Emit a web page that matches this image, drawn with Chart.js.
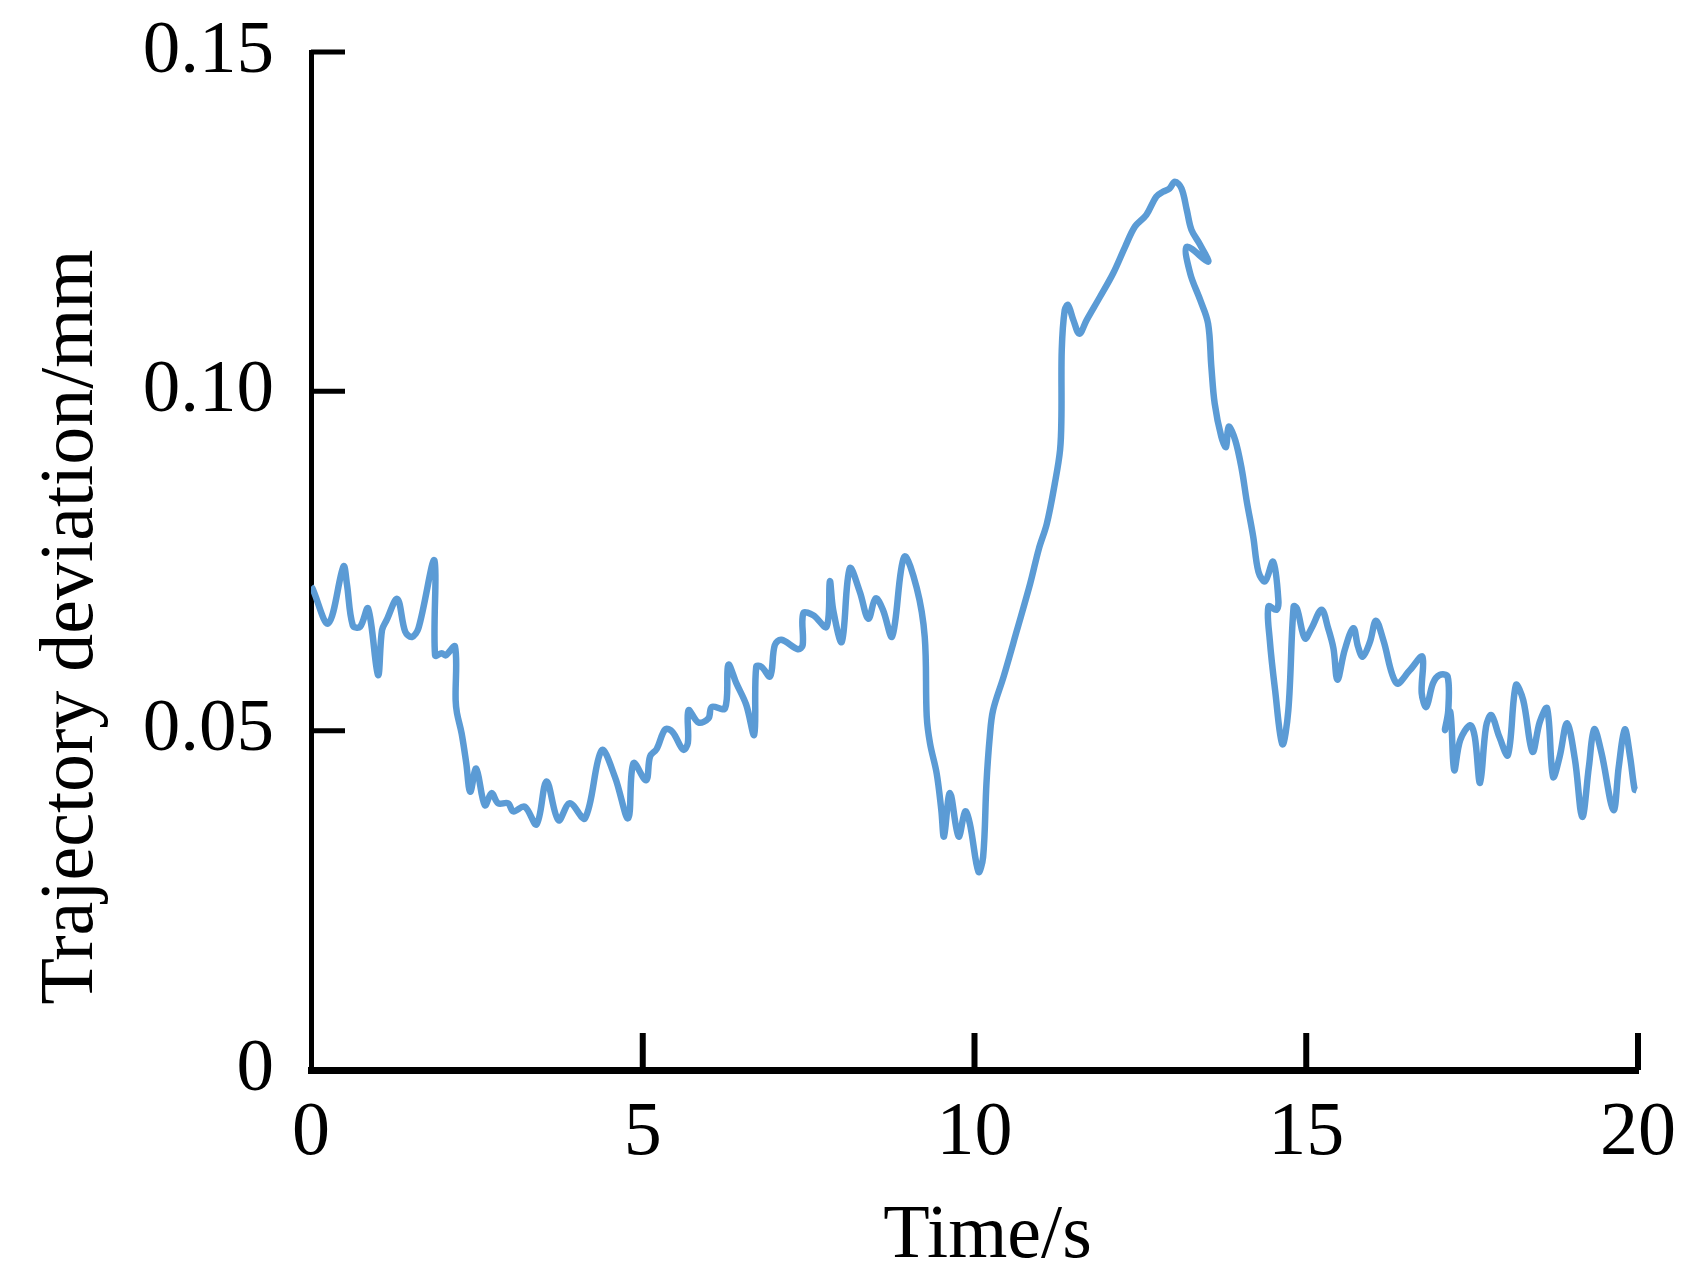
<!DOCTYPE html>
<html>
<head>
<meta charset="utf-8">
<title>Trajectory deviation</title>
<script src="https://cdn.jsdelivr.net/npm/chart.js@4.4.1/dist/chart.umd.min.js"></script>
<style>
  html, body { margin: 0; padding: 0; background: #fff; }
  canvas { display: block; }
</style>
</head>
<body>
<canvas id="deviation-chart" width="1684" height="1288"></canvas>
<script>
// time (s) of each sampled point, in drawing order (the curve doubles back in a few places)
const timeValues = [
  0.00, 0.02, 0.26, 0.49, 0.54, 0.63, 0.74, 0.86, 1.01, 1.07, 1.14, 1.30, 1.42, 1.52, 1.62, 1.86, 1.87, 1.97, 2.03, 2.17,
  2.18, 2.20, 2.27, 2.34, 2.40, 2.49, 2.62, 2.72, 2.82, 2.97, 3.05, 3.22, 3.40, 3.55, 3.73, 3.90, 4.13, 4.38, 4.58, 4.78,
  4.86, 5.05, 5.11, 5.21, 5.34, 5.45, 5.61, 5.68, 5.69, 5.84, 5.99, 6.04, 6.24, 6.29, 6.41, 6.56, 6.68, 6.71, 6.79, 6.92,
  6.99, 7.09, 7.34, 7.41, 7.42, 7.57, 7.77, 7.82, 7.87, 8.00, 8.12, 8.27, 8.40, 8.51, 8.62, 8.76, 8.94, 9.13, 9.25, 9.28,
  9.33, 9.43, 9.50, 9.54, 9.63, 9.76, 9.86, 9.93, 10.06, 10.13, 10.18, 10.23, 10.28, 10.44, 10.64, 10.84, 10.97, 11.09, 11.21, 11.29,
  11.31, 11.315, 11.36, 11.41, 11.49, 11.58, 11.69, 11.89, 12.09, 12.27, 12.42, 12.59, 12.74, 12.84, 12.94, 13.02, 13.12, 13.20, 13.27, 13.40,
  13.52, 13.20, 13.25, 13.40, 13.52, 13.57, 13.62, 13.72, 13.79, 13.83, 13.93, 14.03, 14.10, 14.20, 14.28, 14.38, 14.50, 14.58, 14.55, 14.43,
  14.45, 14.53, 14.64, 14.73, 14.81, 14.86, 14.98, 15.08, 15.23, 15.33, 15.41, 15.47, 15.58, 15.71, 15.78, 15.85, 15.96, 16.05, 16.16, 16.36,
  16.56, 16.75, 16.74, 16.81, 16.91, 17.01, 17.13, 17.14, 17.09, 17.17, 17.23, 17.32, 17.47, 17.54, 17.62, 17.71, 17.79, 17.91, 18.04, 18.16,
  18.27, 18.41, 18.52, 18.63, 18.72, 18.82, 18.93, 19.05, 19.16, 19.26, 19.34, 19.45, 19.63, 19.71, 19.80, 19.88, 19.95, 19.98
];

// trajectory deviation (mm)
const deviationValues = [
  0.0712, 0.0710, 0.0658, 0.0742, 0.0717, 0.0655, 0.0653, 0.0680, 0.0582, 0.0648, 0.0663, 0.0694, 0.0646, 0.0638, 0.0651, 0.0751, 0.0611, 0.0614, 0.0611, 0.0624,
  0.0545, 0.0526, 0.0496, 0.0452, 0.0410, 0.0444, 0.0390, 0.0408, 0.0393, 0.0393, 0.0381, 0.0388, 0.0362, 0.0425, 0.0368, 0.0393, 0.0371, 0.0471, 0.0432, 0.0371,
  0.0452, 0.0427, 0.0462, 0.0473, 0.0502, 0.0498, 0.0472, 0.0482, 0.0530, 0.0512, 0.0518, 0.0535, 0.0533, 0.0597, 0.0570, 0.0538, 0.0494, 0.0594, 0.0594, 0.0580,
  0.0626, 0.0634, 0.0620, 0.0626, 0.0673, 0.0670, 0.0653, 0.0720, 0.0678, 0.0631, 0.0739, 0.0705, 0.0665, 0.0695, 0.0678, 0.0639, 0.0756, 0.0710, 0.0638, 0.0521,
  0.0481, 0.0437, 0.0383, 0.0344, 0.0408, 0.0344, 0.0381, 0.0363, 0.0292, 0.0314, 0.0422, 0.0491, 0.0530, 0.0580, 0.0648, 0.0717, 0.0768, 0.0805, 0.0864, 0.0914,
  0.0963, 0.1061, 0.1120, 0.1127, 0.1105, 0.1085, 0.1105, 0.1139, 0.1174, 0.1213, 0.1243, 0.1260, 0.1287, 0.1294, 0.1299, 0.1309, 0.1299, 0.1267, 0.1238, 0.1216,
  0.1191, 0.1213, 0.1174, 0.1135, 0.1100, 0.1036, 0.0982, 0.0933, 0.0918, 0.0948, 0.0928, 0.0884, 0.0840, 0.0786, 0.0734, 0.0720, 0.0749, 0.0692, 0.0678, 0.0683,
  0.0634, 0.0560, 0.0480, 0.0530, 0.0683, 0.0680, 0.0636, 0.0651, 0.0678, 0.0651, 0.0621, 0.0575, 0.0619, 0.0651, 0.0624, 0.0609, 0.0631, 0.0662, 0.0634, 0.0570,
  0.0589, 0.0609, 0.0555, 0.0535, 0.0570, 0.0582, 0.0580, 0.0530, 0.0501, 0.0528, 0.0442, 0.0486, 0.0508, 0.0491, 0.0423, 0.0506, 0.0523, 0.0491, 0.0464, 0.0567,
  0.0545, 0.0469, 0.0513, 0.0533, 0.0432, 0.0462, 0.0511, 0.0457, 0.0373, 0.0447, 0.0502, 0.0467, 0.0383, 0.0447, 0.0502, 0.0462, 0.0413, 0.0412
];

const xTickLabels = ['0', '5', '10', '15', '20'];
const yTickLabels = ['0', '0.05', '0.10', '0.15'];
const xTitle = 'Time/s';
const yTitle = 'Trajectory deviation/mm';

const serif = '"Liberation Serif", "Times New Roman", serif';

// ticks in the original point into the plot, and the titles sit a bit off-centre,
// so both are drawn here from the scales / chart area
const axisExtras = {
  id: 'axisExtras',
  afterDraw(chart) {
    const { ctx, chartArea, scales } = chart;
    ctx.save();
    ctx.strokeStyle = '#000';
    ctx.lineWidth = 5;
    scales.y.ticks.forEach(t => {
      if (t.value === 0) return;
      const py = scales.y.getPixelForValue(t.value);
      ctx.beginPath();
      ctx.moveTo(chartArea.left, py);
      ctx.lineTo(chartArea.left + 34, py);
      ctx.stroke();
    });
    ctx.lineWidth = 6;
    scales.x.ticks.forEach(t => {
      if (t.value === 0) return;
      const px = scales.x.getPixelForValue(t.value);
      ctx.beginPath();
      ctx.moveTo(px, chartArea.bottom);
      ctx.lineTo(px, chartArea.bottom - 37);
      ctx.stroke();
    });

    ctx.fillStyle = '#000';
    ctx.font = '76px ' + serif;
    ctx.textAlign = 'center';
    ctx.textBaseline = 'alphabetic';
    ctx.fillText(xTitle, (chartArea.left + chartArea.right) / 2 + 13, 1257);
    ctx.translate(92, (chartArea.top + chartArea.bottom) / 2 + 66);
    ctx.rotate(-Math.PI / 2);
    ctx.fillText(yTitle, 0, 0);
    ctx.restore();
  }
};

const points = timeValues.map((t, i) => ({ x: t, y: deviationValues[i] }));

new Chart(document.getElementById('deviation-chart'), {
  type: 'line',
  data: {
    datasets: [{
      label: 'Trajectory deviation',
      data: points,
      borderColor: '#5B9BD5',
      borderWidth: 6.5,
      pointRadius: 0,
      tension: 0.35,
      fill: false
    }]
  },
  options: {
    responsive: false,
    animation: false,
    layout: { padding: { top: 52, right: 46, left: 0, bottom: 0 } },
    plugins: {
      legend: { display: false },
      tooltip: { enabled: false }
    },
    scales: {
      x: {
        type: 'linear',
        min: 0,
        max: 20,
        grid: { display: false, drawTicks: false },
        border: { display: true, color: '#000', width: 7 },
        ticks: {
          stepSize: 5,
          padding: 18,
          color: '#000',
          font: { family: serif, size: 76, lineHeight: 1.2 },
          callback: (value, index) => xTickLabels[index]
        },
        afterFit: scale => {
          scale.height = 218;
          scale.paddingLeft = 0;
          scale.paddingRight = 0;
        }
      },
      y: {
        min: 0,
        max: 0.15,
        grid: { display: false, drawTicks: false },
        border: { display: true, color: '#000', width: 5 },
        ticks: {
          stepSize: 0.05,
          padding: 37,
          color: '#000',
          font: { family: serif, size: 75, lineHeight: 1.2 },
          callback: (value, index) => yTickLabels[index]
        },
        afterFit: scale => {
          scale.width = 311;
          scale.paddingTop = 0;
          scale.paddingBottom = 0;
        }
      }
    }
  },
  plugins: [axisExtras]
});
</script>
</body>
</html>
